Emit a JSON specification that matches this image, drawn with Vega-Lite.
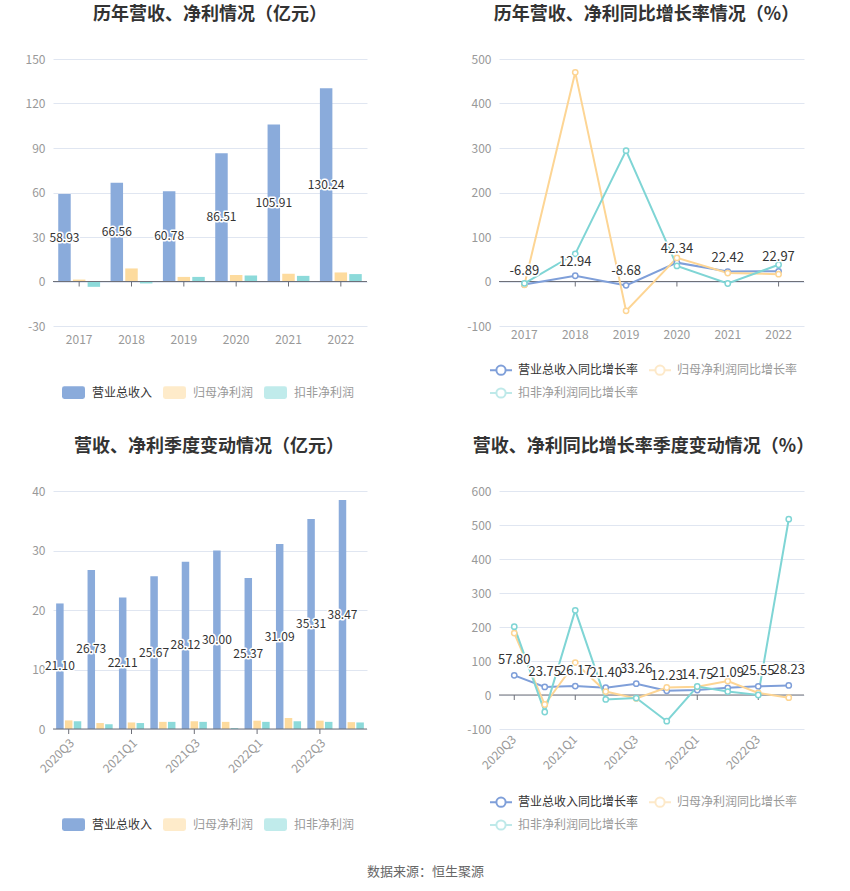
{
  "$schema": "https://vega.github.io/schema/vega-lite/v6.json",
  "padding": {"left": 25, "top": 6, "right": 5, "bottom": 5},
  "background": "#ffffff",
  "config": {
    "font": "Noto Sans CJK SC",
    "locale": {"number": {"decimal": ".", "thousands": ",", "grouping": [3], "currency": ["", ""], "minus": "-"}},
    "view": {"stroke": null},
    "axis": {"labelColor": "#999999", "labelFontSize": 12, "domain": false, "ticks": false, "gridColor": "#e0e6f1", "title": null, "labelPadding": 8, "labelOverlap": false},
    "title": {"fontSize": 18, "fontWeight": "bold", "color": "#333333", "offset": 29, "anchor": "middle"},
    "legend": {"orient": "none", "direction": "horizontal", "padding": 0, "labelFontSize": 12, "labelOffset": 7, "title": null, "labelColor": "#999999"}
  },
  "datasets": {
    "annual": [
      {"year": "2017", "type": "营业总收入", "value": 58.93},
      {"year": "2018", "type": "营业总收入", "value": 66.56},
      {"year": "2019", "type": "营业总收入", "value": 60.78},
      {"year": "2020", "type": "营业总收入", "value": 86.51},
      {"year": "2021", "type": "营业总收入", "value": 105.91},
      {"year": "2022", "type": "营业总收入", "value": 130.24},
      {"year": "2017", "type": "归母净利润", "value": 1.3},
      {"year": "2018", "type": "归母净利润", "value": 8.8},
      {"year": "2019", "type": "归母净利润", "value": 3.1},
      {"year": "2020", "type": "归母净利润", "value": 4.3},
      {"year": "2021", "type": "归母净利润", "value": 5.2},
      {"year": "2022", "type": "归母净利润", "value": 6.1},
      {"year": "2017", "type": "扣非净利润", "value": -3.6},
      {"year": "2018", "type": "扣非净利润", "value": -1.3},
      {"year": "2019", "type": "扣非净利润", "value": 3.1},
      {"year": "2020", "type": "扣非净利润", "value": 4.1},
      {"year": "2021", "type": "扣非净利润", "value": 3.8},
      {"year": "2022", "type": "扣非净利润", "value": 5.0}
    ],
    "annualGrowth": [
      {"year": "2017", "type": "营业总收入同比增长率", "value": -6.89},
      {"year": "2018", "type": "营业总收入同比增长率", "value": 12.94},
      {"year": "2019", "type": "营业总收入同比增长率", "value": -8.68},
      {"year": "2020", "type": "营业总收入同比增长率", "value": 42.34},
      {"year": "2021", "type": "营业总收入同比增长率", "value": 22.42},
      {"year": "2022", "type": "营业总收入同比增长率", "value": 22.97},
      {"year": "2017", "type": "归母净利润同比增长率", "value": -7.5},
      {"year": "2018", "type": "归母净利润同比增长率", "value": 470},
      {"year": "2019", "type": "归母净利润同比增长率", "value": -66},
      {"year": "2020", "type": "归母净利润同比增长率", "value": 53},
      {"year": "2021", "type": "归母净利润同比增长率", "value": 19},
      {"year": "2022", "type": "归母净利润同比增长率", "value": 16.5},
      {"year": "2017", "type": "扣非净利润同比增长率", "value": -4},
      {"year": "2018", "type": "扣非净利润同比增长率", "value": 62},
      {"year": "2019", "type": "扣非净利润同比增长率", "value": 294},
      {"year": "2020", "type": "扣非净利润同比增长率", "value": 35},
      {"year": "2021", "type": "扣非净利润同比增长率", "value": -4.5},
      {"year": "2022", "type": "扣非净利润同比增长率", "value": 37.6}
    ],
    "quarterly": [
      {"q": "2020Q3", "type": "营业总收入", "value": 21.10},
      {"q": "2020Q4", "type": "营业总收入", "value": 26.73},
      {"q": "2021Q1", "type": "营业总收入", "value": 22.11},
      {"q": "2021Q2", "type": "营业总收入", "value": 25.67},
      {"q": "2021Q3", "type": "营业总收入", "value": 28.12},
      {"q": "2021Q4", "type": "营业总收入", "value": 30.00},
      {"q": "2022Q1", "type": "营业总收入", "value": 25.37},
      {"q": "2022Q2", "type": "营业总收入", "value": 31.09},
      {"q": "2022Q3", "type": "营业总收入", "value": 35.31},
      {"q": "2022Q4", "type": "营业总收入", "value": 38.47},
      {"q": "2020Q3", "type": "归母净利润", "value": 1.45},
      {"q": "2020Q4", "type": "归母净利润", "value": 1.0},
      {"q": "2021Q1", "type": "归母净利润", "value": 1.1},
      {"q": "2021Q2", "type": "归母净利润", "value": 1.2},
      {"q": "2021Q3", "type": "归母净利润", "value": 1.3},
      {"q": "2021Q4", "type": "归母净利润", "value": 1.2},
      {"q": "2022Q1", "type": "归母净利润", "value": 1.4},
      {"q": "2022Q2", "type": "归母净利润", "value": 1.85},
      {"q": "2022Q3", "type": "归母净利润", "value": 1.4},
      {"q": "2022Q4", "type": "归母净利润", "value": 1.15},
      {"q": "2020Q3", "type": "扣非净利润", "value": 1.3},
      {"q": "2020Q4", "type": "扣非净利润", "value": 0.8},
      {"q": "2021Q1", "type": "扣非净利润", "value": 1.0},
      {"q": "2021Q2", "type": "扣非净利润", "value": 1.2},
      {"q": "2021Q3", "type": "扣非净利润", "value": 1.2},
      {"q": "2021Q4", "type": "扣非净利润", "value": 0.15},
      {"q": "2022Q1", "type": "扣非净利润", "value": 1.2},
      {"q": "2022Q2", "type": "扣非净利润", "value": 1.3},
      {"q": "2022Q3", "type": "扣非净利润", "value": 1.2},
      {"q": "2022Q4", "type": "扣非净利润", "value": 1.1}
    ],
    "quarterlyGrowth": [
      {"q": "2020Q3", "type": "营业总收入同比增长率", "value": 57.80},
      {"q": "2020Q4", "type": "营业总收入同比增长率", "value": 23.75},
      {"q": "2021Q1", "type": "营业总收入同比增长率", "value": 26.17},
      {"q": "2021Q2", "type": "营业总收入同比增长率", "value": 21.40},
      {"q": "2021Q3", "type": "营业总收入同比增长率", "value": 33.26},
      {"q": "2021Q4", "type": "营业总收入同比增长率", "value": 12.23},
      {"q": "2022Q1", "type": "营业总收入同比增长率", "value": 14.75},
      {"q": "2022Q2", "type": "营业总收入同比增长率", "value": 21.09},
      {"q": "2022Q3", "type": "营业总收入同比增长率", "value": 25.55},
      {"q": "2022Q4", "type": "营业总收入同比增长率", "value": 28.23},
      {"q": "2020Q3", "type": "归母净利润同比增长率", "value": 182},
      {"q": "2020Q4", "type": "归母净利润同比增长率", "value": -28},
      {"q": "2021Q1", "type": "归母净利润同比增长率", "value": 95},
      {"q": "2021Q2", "type": "归母净利润同比增长率", "value": 10},
      {"q": "2021Q3", "type": "归母净利润同比增长率", "value": -10},
      {"q": "2021Q4", "type": "归母净利润同比增长率", "value": 22},
      {"q": "2022Q1", "type": "归母净利润同比增长率", "value": 24},
      {"q": "2022Q2", "type": "归母净利润同比增长率", "value": 41},
      {"q": "2022Q3", "type": "归母净利润同比增长率", "value": 6},
      {"q": "2022Q4", "type": "归母净利润同比增长率", "value": -8},
      {"q": "2020Q3", "type": "扣非净利润同比增长率", "value": 201},
      {"q": "2020Q4", "type": "扣非净利润同比增长率", "value": -50},
      {"q": "2021Q1", "type": "扣非净利润同比增长率", "value": 249},
      {"q": "2021Q2", "type": "扣非净利润同比增长率", "value": -13},
      {"q": "2021Q3", "type": "扣非净利润同比增长率", "value": -9},
      {"q": "2021Q4", "type": "扣非净利润同比增长率", "value": -77},
      {"q": "2022Q1", "type": "扣非净利润同比增长率", "value": 25},
      {"q": "2022Q2", "type": "扣非净利润同比增长率", "value": 10},
      {"q": "2022Q3", "type": "扣非净利润同比增长率", "value": 0},
      {"q": "2022Q4", "type": "扣非净利润同比增长率", "value": 517}
    ]
  },
  "title": {"text": "数据来源：恒生聚源", "orient": "bottom", "anchor": "middle", "fontSize": 13, "fontWeight": "normal", "color": "#666666", "offset": 32, "dx": 6},
  "columns": 2,
  "bounds": "flush",
  "spacing": {"row": 165, "column": 132},
  "resolve": {
    "scale": {"x": "independent", "y": "independent", "color": "independent", "xOffset": "independent"},
    "axis": {"x": "independent", "y": "independent"},
    "legend": {"color": "independent"}
  },
  "concat": [
    {
      "width": 314, "height": 267,
      "title": {"text": "历年营收、净利情况（亿元）", "dx": 0},
      "data": {"name": "annual"},
      "resolve": {"scale": {"y": "independent"}},
      "layer": [
        {
          "layer": [
            {
              "mark": {"type": "bar"},
              "encoding": {
                "x": {"field": "year", "type": "nominal", "scale": {"paddingInner": 0.2, "paddingOuter": 0.1}, "axis": {"labelAngle": 0, "labelAlign": "center", "grid": false}},
                "xOffset": {"field": "type", "type": "nominal", "scale": {"domain": ["营业总收入", "归母净利润", "扣非净利润"], "paddingInner": 0.15}},
                "y": {"field": "value", "type": "quantitative", "scale": {"domain": [-30, 150], "nice": false, "zero": false}, "axis": {"values": [-30, 0, 30, 60, 90, 120, 150], "grid": true, "labelOverlap": false}},
                "color": {"field": "type", "type": "nominal", "scale": {"domain": ["营业总收入", "归母净利润", "扣非净利润"], "range": ["#8aabdb", "#fddb9e", "#8cdada"]},
                  "legend": {"legendX": 9, "legendY": 322, "columnPadding": 10, "symbolType": "M-0.8,-0.55L0.8,-0.55Q1,-0.55,1,-0.35L1,0.35Q1,0.55,0.8,0.55L-0.8,0.55Q-1,0.55,-1,0.35L-1,-0.35Q-1,-0.55,-0.8,-0.55Z", "symbolSize": 529, "symbolStrokeWidth": 0,
                    "encode": {"labels": {"update": {"fill": {"signal": "datum.value === '营业总收入' ? '#333333' : '#999999'"}}}, "symbols": {"update": {"opacity": {"signal": "datum.value === '营业总收入' ? 1 : 0.55"}}}}}}
              }
            },
            {"mark": {"type": "rule", "color": "#6e7079", "strokeWidth": 1}, "data": {"values": [{}]}, "encoding": {"y": {"datum": 0}}},
            {"transform": [{"filter": "datum.type === '营业总收入'"}], "mark": {"type": "point", "shape": "M0,0L0,1", "size": 100, "filled": false, "strokeWidth": 1, "color": "#6e7079", "opacity": 1}, "encoding": {"x": {"field": "year", "type": "nominal"}, "y": {"datum": 0}}}
          ]
        },
        {
          "transform": [{"filter": "datum.type === '营业总收入'"}],
          "encoding": {
            "x": {"field": "year", "type": "nominal"},
            "xOffset": {"field": "type", "type": "nominal"},
            "y": {"field": "value", "type": "quantitative", "scale": {"domain": [-60, 300], "nice": false, "zero": false}, "axis": null},
            "text": {"field": "value", "type": "quantitative", "format": ".2f"}
          },
          "layer": [
            {"mark": {"type": "text", "fontSize": 12, "stroke": "#ffffff", "strokeWidth": 3, "strokeJoin": "round", "fill": "#ffffff"}},
            {"mark": {"type": "text", "fontSize": 12, "fill": "#333333"}}
          ]
        }
      ]
    },
    {
      "width": 305, "height": 267,
      "title": {"text": "历年营收、净利同比增长率情况（%）", "dx": -5},
      "data": {"name": "annualGrowth"},
      "layer": [
        {"mark": {"type": "rule", "color": "#6e7079", "strokeWidth": 1}, "data": {"values": [{}]}, "encoding": {"y": {"datum": 0}}},
        {"transform": [{"filter": "datum.type === '营业总收入同比增长率'"}], "mark": {"type": "point", "shape": "M0,0L0,1", "size": 100, "filled": false, "strokeWidth": 1, "color": "#6e7079", "opacity": 1}, "encoding": {"x": {"field": "year", "type": "ordinal"}, "y": {"datum": 0}}},
        {
          "mark": {"type": "line", "strokeWidth": 2, "point": {"filled": false, "fill": "#ffffff", "size": 28, "strokeWidth": 1.5}},
          "encoding": {
            "x": {"field": "year", "type": "ordinal", "scale": {"type": "band", "paddingInner": 0.2, "paddingOuter": 0.1}, "axis": {"labelAngle": 0, "labelAlign": "center", "grid": false}},
            "y": {"field": "value", "type": "quantitative", "scale": {"domain": [-100, 500], "nice": false, "zero": false}, "axis": {"tickCount": 7, "grid": true, "labelOverlap": false}},
            "color": {"field": "type", "type": "nominal", "scale": {"domain": ["营业总收入同比增长率", "归母净利润同比增长率", "扣非净利润同比增长率"], "range": ["#7f9fd9", "#fdd594", "#7fd5d5"]},
              "legend": {"legendX": -10, "legendY": 299, "columns": 2, "columnPadding": 6, "rowPadding": 2, "labelOffset": 5, "symbolType": "M-1,0L-0.42,0M0.42,0L1,0M0.42,0A0.42,0.42,0,1,1,-0.42,0A0.42,0.42,0,1,1,0.42,0", "symbolSize": 484, "symbolStrokeWidth": 2,
                "encode": {"labels": {"update": {"fill": {"signal": "datum.value === '营业总收入同比增长率' ? '#333333' : '#999999'"}}}, "symbols": {"update": {"fill": {"value": "#ffffff"}, "opacity": {"signal": "datum.value === '营业总收入同比增长率' ? 1 : 0.5"}}}}}}
          }
        },
        {
          "transform": [{"filter": "datum.type === '营业总收入同比增长率'"}],
          "encoding": {
            "x": {"field": "year", "type": "ordinal"},
            "y": {"field": "value", "type": "quantitative"},
            "text": {"field": "value", "type": "quantitative", "format": ".2f"}
          },
          "layer": [
            {"mark": {"type": "text", "fontSize": 13, "dy": -14, "stroke": "#ffffff", "strokeWidth": 3, "strokeJoin": "round", "fill": "#ffffff"}},
            {"mark": {"type": "text", "fontSize": 13, "dy": -14, "fill": "#333333"}}
          ]
        }
      ]
    },
    {
      "width": 314, "height": 238,
      "title": {"text": "营收、净利季度变动情况（亿元）", "dx": -1},
      "data": {"name": "quarterly"},
      "resolve": {"scale": {"y": "independent"}},
      "layer": [
        {
          "layer": [
            {
              "mark": {"type": "bar"},
              "encoding": {
                "x": {"field": "q", "type": "nominal", "scale": {"paddingInner": 0.2, "paddingOuter": 0.1}, "axis": {"labelAngle": -45, "grid": false, "values": ["2020Q3", "2021Q1", "2021Q3", "2022Q1", "2022Q3"]}},
                "xOffset": {"field": "type", "type": "nominal", "scale": {"domain": ["营业总收入", "归母净利润", "扣非净利润"], "paddingInner": 0.15}},
                "y": {"field": "value", "type": "quantitative", "scale": {"domain": [0, 40], "nice": false, "zero": false}, "axis": {"values": [0, 10, 20, 30, 40], "grid": true, "labelOverlap": false}},
                "color": {"field": "type", "type": "nominal", "scale": {"domain": ["营业总收入", "归母净利润", "扣非净利润"], "range": ["#8aabdb", "#fddb9e", "#8cdada"]},
                  "legend": {"legendX": 9, "legendY": 322, "columnPadding": 10, "symbolType": "M-0.8,-0.55L0.8,-0.55Q1,-0.55,1,-0.35L1,0.35Q1,0.55,0.8,0.55L-0.8,0.55Q-1,0.55,-1,0.35L-1,-0.35Q-1,-0.55,-0.8,-0.55Z", "symbolSize": 529, "symbolStrokeWidth": 0,
                    "encode": {"labels": {"update": {"fill": {"signal": "datum.value === '营业总收入' ? '#333333' : '#999999'"}}}, "symbols": {"update": {"opacity": {"signal": "datum.value === '营业总收入' ? 1 : 0.55"}}}}}}
              }
            },
            {"mark": {"type": "rule", "color": "#6e7079", "strokeWidth": 1}, "data": {"values": [{}]}, "encoding": {"y": {"datum": 0}}},
            {"transform": [{"filter": "datum.type === '营业总收入' && indexof(['2020Q3','2021Q1','2021Q3','2022Q1','2022Q3'], datum.q) >= 0"}], "mark": {"type": "point", "shape": "M0,0L0,1", "size": 100, "filled": false, "strokeWidth": 1, "color": "#6e7079", "opacity": 1}, "encoding": {"x": {"field": "q", "type": "nominal"}, "y": {"datum": 0}}}
          ]
        },
        {
          "transform": [{"filter": "datum.type === '营业总收入'"}],
          "encoding": {
            "x": {"field": "q", "type": "nominal"},
            "xOffset": {"field": "type", "type": "nominal"},
            "y": {"field": "value", "type": "quantitative", "scale": {"domain": [0, 80], "nice": false, "zero": false}, "axis": null},
            "text": {"field": "value", "type": "quantitative", "format": ".2f"}
          },
          "layer": [
            {"mark": {"type": "text", "fontSize": 12, "stroke": "#ffffff", "strokeWidth": 3, "strokeJoin": "round", "fill": "#ffffff"}},
            {"mark": {"type": "text", "fontSize": 12, "fill": "#333333"}}
          ]
        }
      ]
    },
    {
      "width": 305, "height": 238,
      "title": {"text": "营收、净利同比增长率季度变动情况（%）", "dx": -8},
      "data": {"name": "quarterlyGrowth"},
      "layer": [
        {"mark": {"type": "rule", "color": "#6e7079", "strokeWidth": 1}, "data": {"values": [{}]}, "encoding": {"y": {"datum": 0}}},
        {"transform": [{"filter": "datum.type === '营业总收入同比增长率' && indexof(['2020Q3','2021Q1','2021Q3','2022Q1','2022Q3'], datum.q) >= 0"}], "mark": {"type": "point", "shape": "M0,0L0,1", "size": 100, "filled": false, "strokeWidth": 1, "color": "#6e7079", "opacity": 1}, "encoding": {"x": {"field": "q", "type": "ordinal"}, "y": {"datum": 0}}},
        {
          "mark": {"type": "line", "strokeWidth": 2, "point": {"filled": false, "fill": "#ffffff", "size": 28, "strokeWidth": 1.5}},
          "encoding": {
            "x": {"field": "q", "type": "ordinal", "scale": {"type": "band", "paddingInner": 0.2, "paddingOuter": 0.1}, "axis": {"labelAngle": -45, "grid": false, "values": ["2020Q3", "2021Q1", "2021Q3", "2022Q1", "2022Q3"]}},
            "y": {"field": "value", "type": "quantitative", "scale": {"domain": [-100, 600], "nice": false, "zero": false}, "axis": {"tickCount": 8, "grid": true, "labelOverlap": false}},
            "color": {"field": "type", "type": "nominal", "scale": {"domain": ["营业总收入同比增长率", "归母净利润同比增长率", "扣非净利润同比增长率"], "range": ["#7f9fd9", "#fdd594", "#7fd5d5"]},
              "legend": {"legendX": -10, "legendY": 299, "columns": 2, "columnPadding": 6, "rowPadding": 2, "labelOffset": 5, "symbolType": "M-1,0L-0.42,0M0.42,0L1,0M0.42,0A0.42,0.42,0,1,1,-0.42,0A0.42,0.42,0,1,1,0.42,0", "symbolSize": 484, "symbolStrokeWidth": 2,
                "encode": {"labels": {"update": {"fill": {"signal": "datum.value === '营业总收入同比增长率' ? '#333333' : '#999999'"}}}, "symbols": {"update": {"fill": {"value": "#ffffff"}, "opacity": {"signal": "datum.value === '营业总收入同比增长率' ? 1 : 0.5"}}}}}}
          }
        },
        {
          "transform": [{"filter": "datum.type === '营业总收入同比增长率'"}],
          "encoding": {
            "x": {"field": "q", "type": "ordinal"},
            "y": {"field": "value", "type": "quantitative"},
            "text": {"field": "value", "type": "quantitative", "format": ".2f"}
          },
          "layer": [
            {"mark": {"type": "text", "fontSize": 13, "dy": -15, "stroke": "#ffffff", "strokeWidth": 3, "strokeJoin": "round", "fill": "#ffffff"}},
            {"mark": {"type": "text", "fontSize": 13, "dy": -15, "fill": "#333333"}}
          ]
        }
      ]
    }
  ]
}
